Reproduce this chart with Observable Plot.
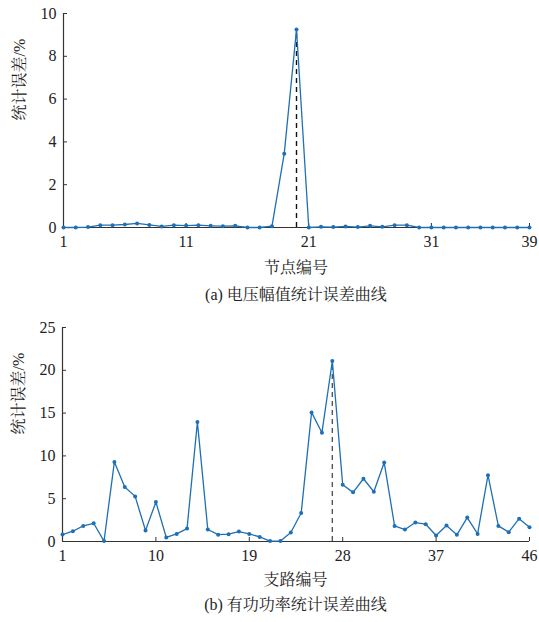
<!DOCTYPE html>
<html><head><meta charset="utf-8">
<script src="https://cdn.jsdelivr.net/npm/d3@7"></script>
<script src="https://cdn.jsdelivr.net/npm/@observablehq/plot@0.6"></script>
<style>
body{margin:0;background:#fff;}
#wrap{position:relative;width:539px;height:622px;font-family:'Liberation Serif','Noto Serif CJK SC',serif;color:#222;}
.lbl{position:absolute;text-align:center;font-size:16px;line-height:18px;white-space:nowrap;}
.pl{position:absolute;left:0;}
</style></head>
<body>
<div id="wrap">
  <div class="pl" id="pa" style="top:0px"></div>
  <div class="lbl" style="left:63px;width:466px;top:259px">节点编号</div>
  <div class="lbl" style="left:63px;width:466px;top:286px">(a) 电压幅值统计误差曲线</div>
  <div class="pl" id="pb" style="top:310px"></div>
  <div class="lbl" style="left:62px;width:467px;top:571px">支路编号</div>
  <div class="lbl" style="left:62px;width:467px;top:596px">(b) 有功功率统计误差曲线</div>
</div>
<script>
// (a) voltage amplitude statistical error per node
const nodes = [1,2,3,4,5,6,7,8,9,10,11,12,13,14,15,16,17,18,19,20,21,22,23,24,25,26,27,28,29,30,31,32,33,34,35,36,37,38,39];
const voltageError = [0,0,0.02,0.11,0.11,0.14,0.19,0.12,0.05,0.11,0.09,0.11,0.08,0.06,0.08,0,0,0.06,3.45,9.25,
  0,0.03,0.02,0.05,0.02,0.08,0.03,0.11,0.11,0,0,0,0,0,0,0,0,0,0];
const nodeTicks = [1,11,21,31,39];
const voltageYTicks = [0,2,4,6,8,10];

// (b) active power statistical error per branch
const branches = [1,2,3,4,5,6,7,8,9,10,11,12,13,14,15,16,17,18,19,20,21,22,23,24,25,26,27,28,29,30,31,32,33,34,35,36,37,38,39,40,41,42,43,44,45,46];
const powerError = [0.81,1.2,1.82,2.13,0.05,9.3,6.36,5.27,1.28,4.61,
  0.47,0.89,1.51,13.95,1.4,0.8,0.85,1.16,0.89,0.54,
  0.05,0.05,1.05,3.33,15.08,12.71,21.09,6.63,5.74,7.33,
  5.81,9.22,1.82,1.4,2.21,2.02,0.7,1.86,0.78,2.79,
  0.89,7.75,1.82,1.09,2.67,1.67];
const branchTicks = [1,10,19,28,37,46];
const powerYTicks = [0,5,10,15,20,25];
const yLabel = "统计误差/%";

const FONT = "'Liberation Serif', 'Noto Serif CJK SC', serif";

function chart({xs, ys, xTicks, yTicks, xDomain, yDomain, marginTop, height, marginLeft, dashColor}) {
  const data = xs.map((x, i) => ({x, y: ys[i]}));
  const peak = data[d3.maxIndex(ys)];
  return Plot.plot({
    width: 539, height, marginTop, marginBottom: 28, marginLeft, marginRight: 10,
    style: {fontFamily: FONT, fontSize: "16px", color: "#222", background: "white", overflow: "visible"},
    x: {domain: xDomain},
    y: {domain: yDomain},
    marks: [
      Plot.axisX(xTicks, {tickSize: -4, tickPadding: 12, label: null, stroke: "#333", fontFamily: FONT, fontSize: 16}),
      Plot.axisY(yTicks, {tickSize: -4, tickPadding: 11, label: null, stroke: "#333", fontFamily: FONT, fontSize: 16}),
      Plot.ruleY([yDomain[0]], {stroke: "#333", strokeWidth: 1.2}),
      Plot.ruleX([xDomain[0]], {stroke: "#333", strokeWidth: 1.2}),
      Plot.ruleX([peak], {x: "x", y1: yDomain[0], y2: "y", stroke: dashColor, strokeDasharray: "5,4", strokeWidth: 1.4}),
      Plot.line(data, {x: "x", y: "y", stroke: "#1f6fb4", strokeWidth: 1.3}),
      Plot.dot(data, {x: "x", y: "y", r: 2, fill: "#1f6fb4"}),
      Plot.text([yLabel], {text: d => d, frameAnchor: "left", rotate: -90, dx: -44, fontSize: 16, fill: "#222", fontFamily: FONT})
    ]
  });
}

document.getElementById("pa").appendChild(chart({
  xs: nodes, ys: voltageError, xTicks: nodeTicks, yTicks: voltageYTicks,
  xDomain: [1, 39], yDomain: [0, 10], marginTop: 13, height: 255, marginLeft: 63, dashColor: "#111"
}));
document.getElementById("pb").appendChild(chart({
  xs: branches, ys: powerError, xTicks: branchTicks, yTicks: powerYTicks,
  xDomain: [1, 46], yDomain: [0, 25], marginTop: 17, height: 259, marginLeft: 62, dashColor: "#555"
}));
</script>
</body></html>
